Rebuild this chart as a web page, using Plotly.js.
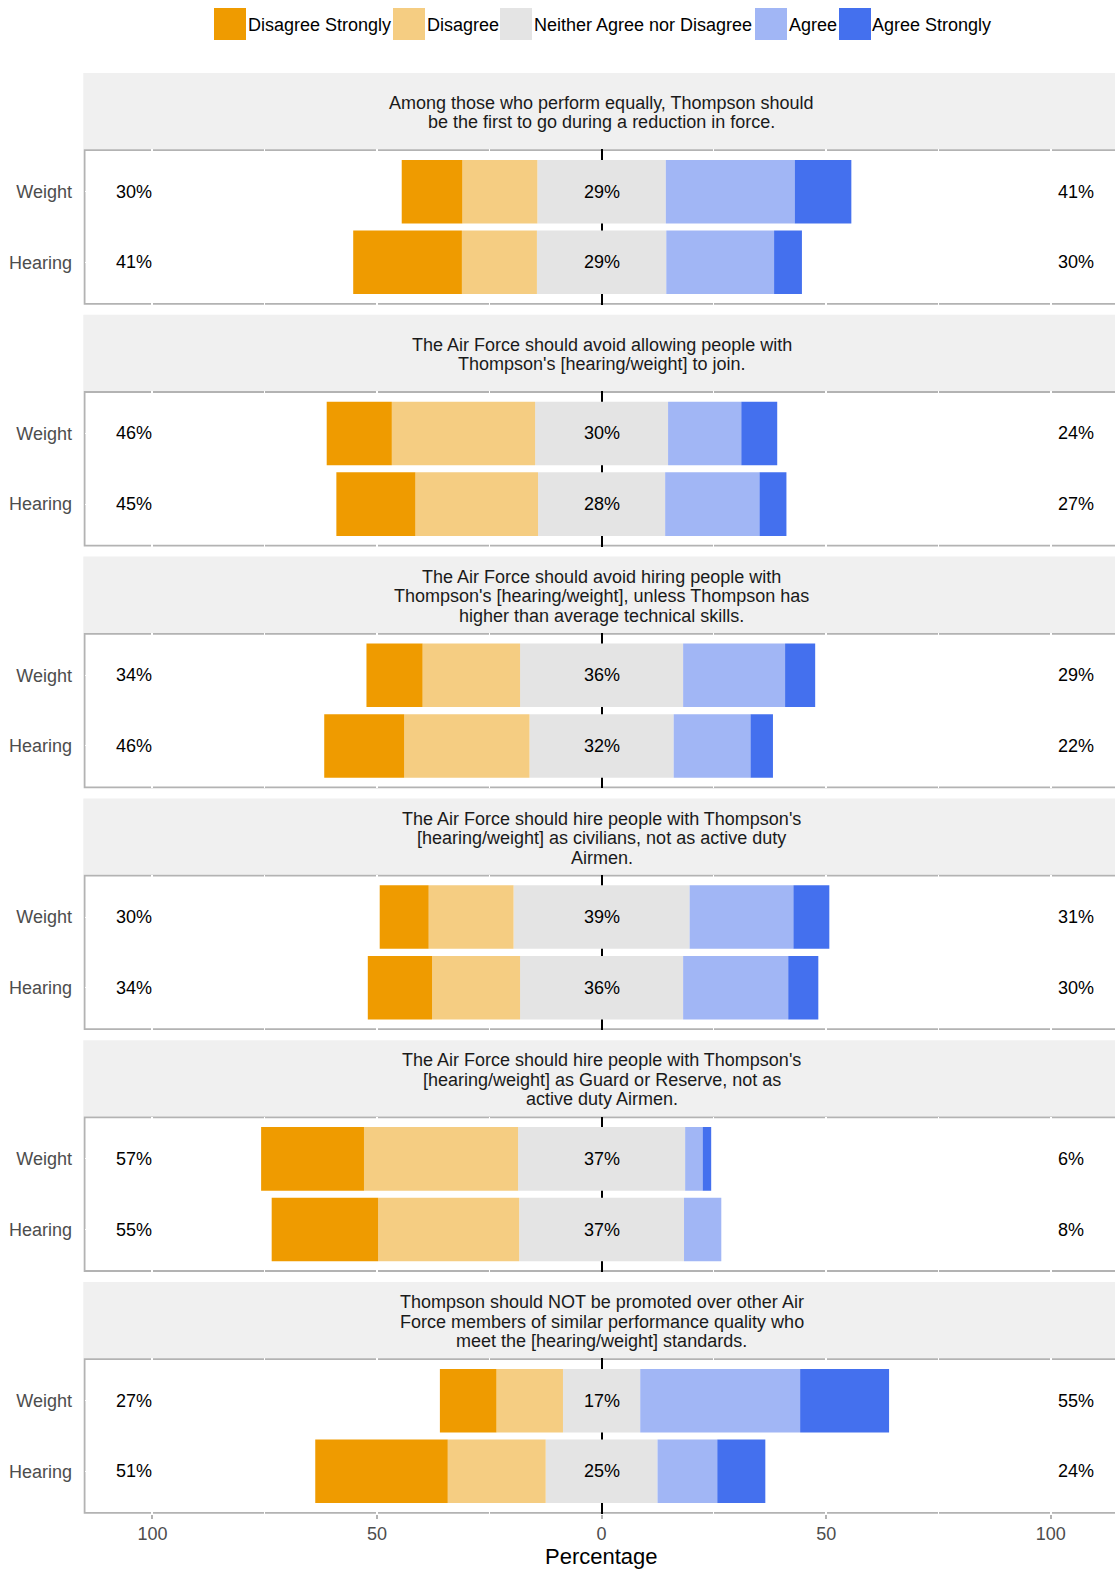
<!DOCTYPE html>
<html>
<head>
<meta charset="utf-8">
<script src="https://cdn.plot.ly/plotly-3.0.1.min.js"></script>
<style>
  html, body { margin: 0; padding: 0; background: #ffffff; }
  #chart { width: 1115px; height: 1569px; }
</style>
</head>
<body>
<div id="chart"></div>
<script>
// ---------------- DATA ----------------
const categories = ['Weight', 'Hearing'];

const itemTitles = [
  ['Among those who perform equally, Thompson should', 'be the first to go during a reduction in force.'],
  ['The Air Force should avoid allowing people with', "Thompson's [hearing/weight] to join."],
  ['The Air Force should avoid hiring people with', "Thompson's [hearing/weight], unless Thompson has", 'higher than average technical skills.'],
  ["The Air Force should hire people with Thompson's", '[hearing/weight] as civilians, not as active duty', 'Airmen.'],
  ["The Air Force should hire people with Thompson's", '[hearing/weight] as Guard or Reserve, not as', 'active duty Airmen.'],
  ['Thompson should NOT be promoted over other Air', 'Force members of similar performance quality who', 'meet the [hearing/weight] standards.']
];

const levels = ['Disagree Strongly', 'Disagree', 'Neither Agree nor Disagree', 'Agree', 'Agree Strongly'];

// each entry: [Weight, Hearing], percentages
const disagreeStrongly = [[13.5, 24.2], [14.5, 17.6], [12.5, 17.8], [10.9, 14.3], [22.9, 23.7], [12.6, 29.5]];
const disagree         = [[16.7, 16.7], [31.9, 27.3], [21.7, 27.9], [18.9, 19.6], [34.3, 31.4], [14.8, 21.8]];
const neutral          = [[28.6, 28.8], [29.6, 28.3], [36.3, 32.1], [39.2, 36.3], [37.2, 36.7], [17.2, 24.9]];
const agree            = [[28.7, 24.0], [16.3, 21.0], [22.7, 17.1], [23.1, 23.4], [3.9, 8.3], [35.6, 13.3]];
const agreeStrongly    = [[12.6, 6.2], [8.0, 6.0], [6.7, 5.0], [8.0, 6.7], [1.9, 0.0], [19.8, 10.7]];

const xTickVals = [-100, -50, 0, 50, 100];
const xTickText = ['100', '50', '0', '50', '100'];

// ---------------- STYLE ----------------
const colors = ['#EF9B00', '#F5CD82', '#E4E4E4', '#A1B6F5', '#4470EE'];
const FONT = 'Liberation Sans, Arial, sans-serif';
const W = 1115, H = 1569;
const plotLeftPx = 84.6;
const xRange = [-115.1, 114.3];
const stripTop0 = 73, period = 241.8, stripH = 76.3, bodyH = 155.4;
const lineGap = 19.5;
const legendKeyX = [214, 393, 500, 755, 839];

const py = v => 1 - v / H;
const px = v => v / W;

const traces = [];
const shapes = [];
const annotations = [];
const layout = {
  width: W, height: H,
  margin: {l: 0, r: 0, t: 0, b: 0, pad: 0},
  paper_bgcolor: '#ffffff',
  plot_bgcolor: 'rgba(0,0,0,0)',
  barmode: 'overlay',
  bargap: 0.1,
  showlegend: false,
  font: {family: FONT, size: 18, color: '#1A1A1A'}
};

for (let k = 0; k < 6; k++) {
  const xa = k === 0 ? 'x' : 'x' + (k + 1);
  const ya = k === 0 ? 'y' : 'y' + (k + 1);
  const sTop = stripTop0 + period * k;
  const bTop = sTop + stripH;
  const bBot = bTop + bodyH;

  // diverging stack: neutral centred on zero, disagree to the left, agree to the right
  const nHalf = neutral[k].map(v => v / 2);
  const baseD = nHalf.map((h, i) => -h - disagree[k][i]);
  const baseDS = baseD.map((b, i) => b - disagreeStrongly[k][i]);
  const baseA = nHalf;
  const baseAS = nHalf.map((h, i) => h + agree[k][i]);
  const series = [
    {x: neutral[k], base: nHalf.map(h => -h), c: colors[2], n: levels[2]},
    {x: disagree[k], base: baseD, c: colors[1], n: levels[1]},
    {x: disagreeStrongly[k], base: baseDS, c: colors[0], n: levels[0]},
    {x: agree[k], base: baseA, c: colors[3], n: levels[3]},
    {x: agreeStrongly[k], base: baseAS, c: colors[4], n: levels[4]}
  ];
  series.forEach(s => {
    traces.push({
      type: 'bar', orientation: 'h',
      x: s.x, base: s.base, y: categories, name: s.n,
      marker: {color: s.c, line: {width: 0}},
      xaxis: xa, yaxis: ya, hoverinfo: 'skip'
    });
  });

  const xKey = k === 0 ? 'xaxis' : 'xaxis' + (k + 1);
  const yKey = k === 0 ? 'yaxis' : 'yaxis' + (k + 1);
  layout[xKey] = {
    domain: [px(plotLeftPx), 1], range: xRange, autorange: false,
    anchor: ya, tickmode: 'array', tickvals: xTickVals, ticktext: xTickText,
    showticklabels: k === 5, ticks: k === 5 ? 'outside' : '', ticklen: 4, tickwidth: 1.5, tickcolor: '#B3B3B3',
    tickfont: {family: FONT, size: 18, color: '#4D4D4D'},
    showgrid: true, gridcolor: '#ffffff', gridwidth: 2,
    minor: {tickmode: 'array', tickvals: [-75, -25, 25, 75], showgrid: true, gridcolor: '#ffffff', gridwidth: 1, ticks: ''},
    zeroline: true, zerolinecolor: '#000000', zerolinewidth: 2,
    showline: false, fixedrange: true
  };
  layout[yKey] = {
    domain: [py(bBot), py(bTop)], anchor: xa,
    type: 'category', categoryorder: 'array', categoryarray: categories,
    range: [1.6, -0.6], autorange: false,
    showgrid: true, gridcolor: '#ffffff', gridwidth: 1, zeroline: false, showline: false,
    ticks: 'outside', ticklen: 8, tickcolor: 'rgba(0,0,0,0)',
    tickfont: {family: FONT, size: 18, color: '#4D4D4D'}, fixedrange: true
  };

  // strip background
  shapes.push({type: 'rect', xref: 'paper', yref: 'paper', layer: 'below',
    x0: px(83.3), x1: 1.01, y0: py(bTop), y1: py(sTop),
    fillcolor: '#F0F0F0', line: {width: 0}});
  // panel border
  shapes.push({type: 'rect', xref: 'paper', yref: 'paper', layer: 'below',
    x0: px(plotLeftPx), x1: 1.02, y0: py(bBot - 0.9), y1: py(bTop + 0.9),
    fillcolor: 'rgba(0,0,0,0)', line: {color: '#B3B3B3', width: 1.8}});

  // strip text lines
  const lines = itemTitles[k];
  const cy = sTop + stripH / 2 + 1.5;
  lines.forEach((t, i) => {
    annotations.push({xref: xa, yref: 'paper', x: 0, y: py(cy + (i - (lines.length - 1) / 2) * lineGap),
      xanchor: 'center', yanchor: 'middle', text: t, showarrow: false,
      font: {family: FONT, size: 18, color: '#1A1A1A'}});
  });

  // percentage labels
  for (let i = 0; i < categories.length; i++) {
    const low = Math.round(disagreeStrongly[k][i] + disagree[k][i]);
    const mid = Math.round(neutral[k][i]);
    const high = Math.round(agree[k][i] + agreeStrongly[k][i]);
    annotations.push({xref: xa, yref: ya, x: -99.6, y: i, xanchor: 'right', yanchor: 'middle',
      text: low + '%', showarrow: false, font: {family: FONT, size: 18, color: '#000000'}});
    annotations.push({xref: xa, yref: ya, x: 0, y: i, xanchor: 'center', yanchor: 'middle',
      text: mid + '%', showarrow: false, font: {family: FONT, size: 18, color: '#000000'}});
    annotations.push({xref: xa, yref: ya, x: 101.2, y: i, xanchor: 'left', yanchor: 'middle',
      text: high + '%', showarrow: false, font: {family: FONT, size: 18, color: '#000000'}});
  }
}

// x axis title
annotations.push({xref: 'x6', yref: 'paper', x: 0, y: py(1556), xanchor: 'center', yanchor: 'middle',
  text: 'Percentage', showarrow: false, font: {family: FONT, size: 22, color: '#000000'}});

// legend (drawn manually with large square keys)
levels.forEach((name, j) => {
  shapes.push({type: 'rect', xref: 'paper', yref: 'paper', layer: 'above',
    x0: px(legendKeyX[j]), x1: px(legendKeyX[j] + 32), y0: py(40), y1: py(8),
    fillcolor: colors[j], line: {width: 0}});
  annotations.push({xref: 'paper', yref: 'paper', x: px(legendKeyX[j] + 32.5), y: py(25),
    xanchor: 'left', yanchor: 'middle', text: name, showarrow: false, borderpad: 0,
    font: {family: FONT, size: 18, color: '#000000'}});
});

layout.shapes = shapes;
layout.annotations = annotations;

Plotly.newPlot('chart', traces, layout, {displayModeBar: false, responsive: false});
</script>
</body>
</html>
